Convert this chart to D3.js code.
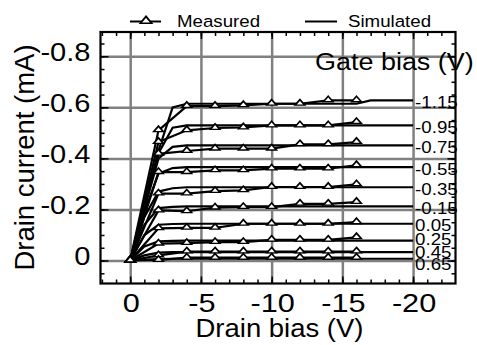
<!DOCTYPE html>
<html lang="en">
<head>
    <meta charset="UTF-8">
    <script src="https://d3js.org/d3.v7.min.js"></script>
    <title>Drain current vs drain bias</title>
    <style>
        body { margin: 0; background: #fff; }
        text { font-family: "Liberation Sans", Arial, sans-serif; fill: #000; }
    </style>
</head>
<body>
<div id="viz"></div>
<script>
    // gate bias of each curve (V)
    const gateBias = ["-1.15", "-0.95", "-0.75", "-0.55", "-0.35", "-0.15", "0.05", "0.25", "0.45", "0.65"];

    // measured points, drain bias (V) and drain current (mA) per gate bias
    const measVd = [0, -2, -4, -6, -8, -10, -12, -14, -16];
    const measId = [
        [0, -0.510, -0.605, -0.605, -0.608, -0.614, -0.614, -0.627, -0.627],
        [0, -0.464, -0.510, -0.519, -0.521, -0.529, -0.529, -0.529, -0.542],
        [0, -0.418, -0.429, -0.438, -0.438, -0.438, -0.455, -0.455, -0.464],
        [0, -0.346, -0.346, -0.353, -0.353, -0.360, -0.360, -0.360, -0.373],
        [0, -0.262, -0.262, -0.272, -0.275, -0.288, -0.288, -0.288, -0.298],
        [0, -0.196, -0.193, -0.207, -0.209, -0.209, -0.222, -0.222, -0.229],
        [0, -0.126, -0.128, -0.128, -0.144, -0.144, -0.144, -0.144, -0.150],
        [0, -0.066, -0.068, -0.072, -0.072, -0.081, -0.081, -0.081, -0.091],
        [0, -0.020, -0.035, -0.035, -0.035, -0.035, -0.035, -0.035, -0.035],
        [0, -0.002, -0.011, -0.011, -0.011, -0.011, -0.011, -0.011, -0.011]
    ];

    // simulated curves
    const simVd = [0, -1, -2, -3, -4, -6, -8, -10, -12, -14, -16, -17, -20];
    const simId = [
        [0, -0.21, -0.43, -0.600, -0.614, -0.614, -0.614, -0.614, -0.614, -0.614, -0.614, -0.627, -0.627],
        [0, -0.21, -0.42, -0.520, -0.529, -0.529, -0.529, -0.529, -0.529, -0.529, -0.529, -0.529, -0.529],
        [0, -0.20, -0.40, -0.445, -0.451, -0.451, -0.451, -0.451, -0.451, -0.451, -0.451, -0.451, -0.451],
        [0, -0.19, -0.34, -0.362, -0.366, -0.366, -0.366, -0.366, -0.366, -0.366, -0.366, -0.366, -0.366],
        [0, -0.17, -0.27, -0.283, -0.287, -0.287, -0.287, -0.287, -0.287, -0.287, -0.287, -0.287, -0.287],
        [0, -0.14, -0.205, -0.210, -0.212, -0.212, -0.212, -0.212, -0.212, -0.212, -0.212, -0.212, -0.212],
        [0, -0.10, -0.140, -0.143, -0.144, -0.144, -0.144, -0.144, -0.144, -0.144, -0.144, -0.144, -0.144],
        [0, -0.055, -0.075, -0.077, -0.078, -0.078, -0.078, -0.078, -0.078, -0.078, -0.078, -0.078, -0.078],
        [0, -0.020, -0.031, -0.033, -0.033, -0.033, -0.033, -0.033, -0.033, -0.033, -0.033, -0.033, -0.033],
        [0, -0.004, -0.006, -0.007, -0.007, -0.007, -0.007, -0.007, -0.007, -0.007, -0.007, -0.007, -0.007]
    ];

    // tick values and labels
    const xTicks = [0, -5, -10, -15, -20];
    const xTickLabels = ["0", "-5", "-10", "-15", "-20"];
    const yTicks = [0, -0.2, -0.4, -0.6, -0.8];
    const yTickLabels = ["0", "-0.2", "-0.4", "-0.6", "-0.8"];

    const W = 477, H = 345;
    const plot = {left: 100.5, right: 455.5, top: 32, bottom: 283.5};
    const sx = 1.1; // text in the picture is a bit wide

    const svg = d3.select("#viz")
        .append("svg")
        .attr("width", W)
        .attr("height", H);

    const x = d3.scaleLinear().domain([2.1, -23]).range([plot.left, plot.right]);
    const y = d3.scaleLinear().domain([0.09, -0.895]).range([plot.bottom, plot.top]);

    const pw = plot.right - plot.left, ph = plot.bottom - plot.top;

    // grid
    svg.append("g")
        .attr("transform", `translate(0, ${plot.bottom})`)
        .call(d3.axisBottom(x).tickValues(xTicks).tickSize(-ph).tickFormat(""))
        .call(g => g.select(".domain").remove())
        .selectAll("line").attr("stroke", "#808080").attr("stroke-width", 2.5);
    svg.append("g")
        .attr("transform", `translate(${plot.left}, 0)`)
        .call(d3.axisLeft(y).tickValues(yTicks).tickSize(-pw).tickFormat(""))
        .call(g => g.select(".domain").remove())
        .selectAll("line").attr("stroke", "#808080").attr("stroke-width", 2.5);

    // inward ticks on all four sides
    const xMinor = d3.range(2, -23, -1);
    const yMinor = d3.range(0.05, -0.9, -0.05);
    function ticks(axis, vals, len, tr) {
        svg.append("g")
            .attr("transform", tr)
            .call(axis.tickValues(vals).tickSizeInner(-len).tickSizeOuter(0).tickFormat(""))
            .call(g => g.select(".domain").remove())
            .selectAll("line").attr("stroke", "#000").attr("stroke-width", 1.5);
    }
    ticks(d3.axisBottom(x), xMinor, 4, `translate(0, ${plot.bottom})`);
    ticks(d3.axisBottom(x), xTicks, 7, `translate(0, ${plot.bottom})`);
    ticks(d3.axisTop(x), xMinor, 4, `translate(0, ${plot.top})`);
    ticks(d3.axisTop(x), xTicks, 7, `translate(0, ${plot.top})`);
    ticks(d3.axisLeft(y), yMinor, 4, `translate(${plot.left}, 0)`);
    ticks(d3.axisLeft(y), yTicks, 8, `translate(${plot.left}, 0)`);
    ticks(d3.axisRight(y), yMinor, 4, `translate(${plot.right}, 0)`);
    ticks(d3.axisRight(y), yTicks, 8, `translate(${plot.right}, 0)`);

    // tick labels
    svg.append("g")
        .attr("transform", `translate(0, ${plot.bottom})`)
        .call(d3.axisBottom(x).tickValues(xTicks).tickSize(0).tickFormat((d, i) => xTickLabels[i]))
        .call(g => g.select(".domain").remove())
        .selectAll("text")
        .attr("y", 0).attr("dy", null)
        .attr("transform", `translate(0.5, 28.5) scale(1.18, 1)`)
        .style("font-size", "26px");
    svg.append("g")
        .attr("transform", `translate(${plot.left}, 0)`)
        .call(d3.axisLeft(y).tickValues(yTicks).tickSize(0).tickFormat((d, i) => yTickLabels[i]))
        .call(g => g.select(".domain").remove())
        .selectAll("text")
        .attr("x", 0).attr("dy", null)
        .attr("transform", `translate(-10, 4) scale(1.14, 1)`)
        .style("font-size", "25.5px");

    // axis titles
    svg.append("text")
        .attr("transform", `translate(${(plot.left + plot.right) / 2 + 1.5}, 337) scale(${sx}, 1)`)
        .attr("text-anchor", "middle")
        .style("font-size", "25px")
        .text("Drain bias (V)");
    svg.append("text")
        .attr("transform", "translate(34, 157.5) rotate(-90)")
        .attr("text-anchor", "middle")
        .style("font-size", "27.5px")
        .text("Drain current (mA)");

    // curves
    const line = d3.line().x(d => x(d[0])).y(d => y(d[1]));
    simId.forEach(row => {
        svg.append("path")
            .datum(simVd.map((v, i) => [v, row[i]]))
            .attr("d", line)
            .attr("fill", "none")
            .attr("stroke", "#000")
            .attr("stroke-width", 2.2);
    });

    const tri = d3.symbol().type(d3.symbolTriangle).size(24);
    measId.forEach(row => {
        const pts = measVd.map((v, i) => [v, row[i]]);
        svg.append("path")
            .datum(pts)
            .attr("d", line)
            .attr("fill", "none")
            .attr("stroke", "#000")
            .attr("stroke-width", 2.2);
        svg.selectAll(null)
            .data(pts)
            .join("path")
            .attr("d", tri)
            .attr("transform", d => `translate(${x(d[0])}, ${y(d[1]) - 0.5}) scale(1.3, 0.85)`)
            .attr("fill", "#fff")
            .attr("stroke", "#000")
            .attr("stroke-width", 1.5);
    });

    // gate bias labels, spread so they don't collide
    const gap = 12.5, lowest = plot.bottom - 13.5;
    const ly = simId.map(row => y(row[row.length - 1]) + 7.5);
    for (let i = 1; i < ly.length; i++) ly[i] = Math.max(ly[i], ly[i - 1] + gap);
    ly[ly.length - 1] = Math.min(ly[ly.length - 1], lowest);
    for (let i = ly.length - 2; i >= 0; i--) ly[i] = Math.min(ly[i], ly[i + 1] - gap);
    gateBias.forEach((g, i) => {
        svg.append("text")
            .attr("transform", `translate(${x(-20) + 2}, ${ly[i]}) scale(${sx}, 1)`)
            .style("font-size", "17px")
            .text(g);
    });
    svg.append("text")
        .attr("transform", `translate(315, 69.5) scale(${sx}, 1)`)
        .style("font-size", "24.5px")
        .text("Gate bias (V)");

    // legend
    const leg = svg.append("g");
    leg.append("line").attr("x1", 130).attr("x2", 161).attr("y1", 21.5).attr("y2", 21.5)
        .attr("stroke", "#000").attr("stroke-width", 2);
    leg.append("path").attr("d", tri)
        .attr("transform", "translate(146, 21) scale(1.5, 1.05)")
        .attr("fill", "#fff").attr("stroke", "#000").attr("stroke-width", 1.4);
    leg.append("text").attr("transform", `translate(177, 27) scale(${sx}, 1)`)
        .style("font-size", "17px").text("Measured");
    leg.append("line").attr("x1", 305).attr("x2", 337).attr("y1", 21.5).attr("y2", 21.5)
        .attr("stroke", "#000").attr("stroke-width", 2);
    leg.append("text").attr("transform", `translate(348, 27) scale(${sx}, 1)`)
        .style("font-size", "17px").text("Simulated");

    // frame
    svg.append("rect")
        .attr("x", plot.left).attr("y", plot.top)
        .attr("width", pw).attr("height", ph)
        .attr("fill", "none")
        .attr("stroke", "#000")
        .attr("stroke-width", 2.2);
</script>
</body>
</html>
